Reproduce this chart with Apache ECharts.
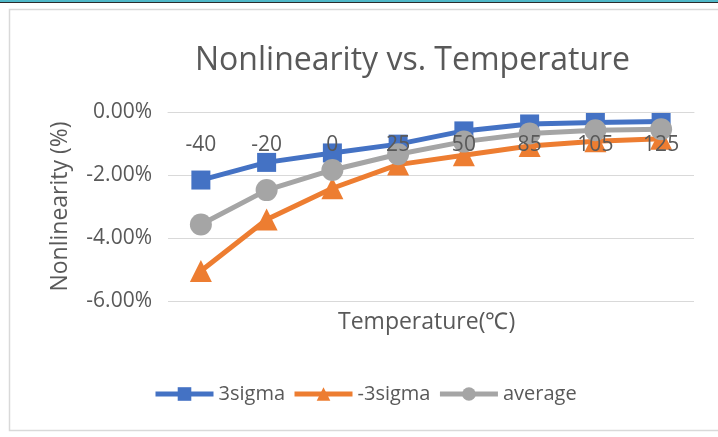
<!DOCTYPE html>
<html>
<head>
<meta charset="utf-8">
<script src="https://cdn.jsdelivr.net/npm/echarts@6/dist/echarts.min.js"></script>
<style>
  html, body { margin: 0; padding: 0; background: #fff; }
  #chart { width: 718px; height: 437px; }
</style>
</head>
<body>
<div id="chart"></div>
<script>
'use strict';

// 温度点
var categories = ['-40', '-20', '0', '25', '50', '85', '105', '125'];
// 非线性 (%)
var sigmaPlus = [-2.16, -1.60, -1.30, -1.02, -0.60, -0.38, -0.33, -0.30];
var sigmaMinus = [-5.05, -3.41, -2.42, -1.67, -1.37, -1.08, -0.93, -0.85];
var average = [-3.57, -2.48, -1.84, -1.34, -0.94, -0.68, -0.58, -0.55];
var seriesNames = ['3sigma', '-3sigma', 'average'];

var FONT = '"Open Sans"';
var TEXT = '#595959';

var chart = echarts.init(document.getElementById('chart'));

function lineSeries(name, data, color, symbol, size) {
    return {
        name: name,
        type: 'line',
        data: data,
        symbol: symbol,
        symbolSize: size,
        showAllSymbol: true,
        itemStyle: { color: color },
        lineStyle: { color: color, width: 5 },
        emphasis: { disabled: true }
    };
}

var option = {
    animation: false,
    backgroundColor: '#fff',
    textStyle: { fontFamily: FONT, color: TEXT },
    title: [
        {
            text: 'Nonlinearity vs. Temperature',
            left: 195,
            top: 45,
            padding: 0,
            textStyle: { fontFamily: FONT, fontSize: 32, fontWeight: 'normal', color: TEXT }
        },
        {
            text: 'Temperature(℃)',
            left: 338,
            top: 311,
            padding: 0,
            textStyle: { fontFamily: FONT, fontSize: 23, fontWeight: 'normal', color: TEXT }
        }
    ],
    legend: {
        left: 153,
        top: 384,
        padding: 0,
        itemWidth: 58,
        itemHeight: 17,
        itemGap: 7,
        data: seriesNames,
        lineStyle: { width: 5 },
        textStyle: { fontFamily: FONT, fontSize: 20, color: TEXT }
    },
    grid: {
        left: 168,
        right: 24,
        top: 112,
        bottom: 136
    },
    xAxis: {
        type: 'category',
        data: categories,
        position: 'top',
        boundaryGap: true,
        z: 5,
        axisLine: { show: true, onZero: false, lineStyle: { color: '#d9d9d9' } },
        axisTick: { show: false },
        axisLabel: { inside: true, margin: 23, fontFamily: FONT, fontSize: 21, color: TEXT }
    },
    yAxis: {
        type: 'value',
        min: -6,
        max: 0,
        interval: 2,
        name: 'Nonlinearity (%)',
        nameLocation: 'middle',
        nameGap: 96,
        nameTextStyle: { fontFamily: FONT, fontSize: 23, color: TEXT },
        axisLine: { show: false },
        axisTick: { show: false },
        axisLabel: {
            margin: 16,
            fontFamily: FONT,
            fontSize: 21,
            color: TEXT,
            formatter: function (v) { return v.toFixed(2) + '%'; }
        },
        splitLine: { lineStyle: { color: '#d9d9d9', width: 1 } }
    },
    graphic: [
        { type: 'rect', shape: { x: 0, y: 0, width: 718, height: 2 }, style: { fill: '#4fb8c8' } },
        { type: 'rect', shape: { x: 0, y: 2, width: 718, height: 1 }, style: { fill: '#2b2b2b' } },
        {
            type: 'rect',
            shape: { x: 9.5, y: 9.5, width: 760, height: 421 },
            style: { fill: 'none', stroke: '#d9d9d9', lineWidth: 1.5 },
            silent: true
        }
    ],
    series: [
        lineSeries(seriesNames[0], sigmaPlus, '#4472C4', 'rect', 19),
        lineSeries(seriesNames[1], sigmaMinus, '#ED7D31', 'triangle', 22),
        lineSeries(seriesNames[2], average, '#A5A5A5', 'circle', 22)
    ]
};

chart.setOption(option);
</script>
</body>
</html>
